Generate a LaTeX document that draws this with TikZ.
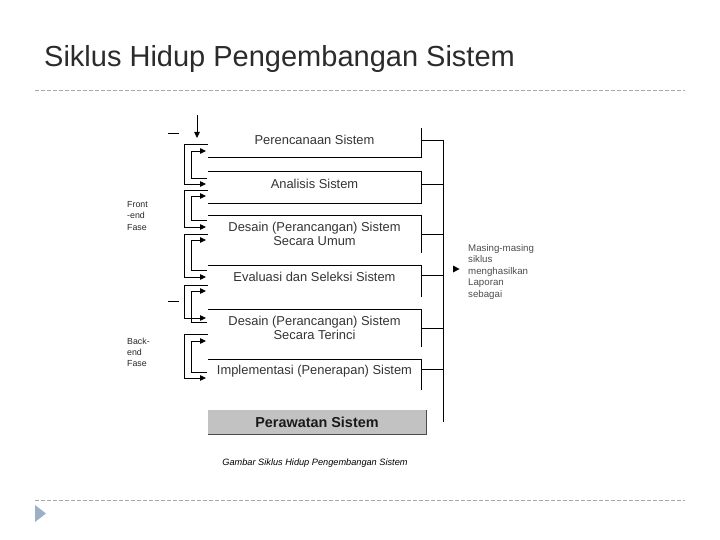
\documentclass[tikz,border=0pt]{standalone}
\usepackage{fontspec}
\setmainfont{Liberation Sans}
\usetikzlibrary{arrows.meta}
\definecolor{titlegray}{HTML}{2B2B2B}
\definecolor{txtgray}{HTML}{333333}
\definecolor{dashgray}{HTML}{A8A8A8}
\definecolor{bullet}{HTML}{9DB0C8}
\definecolor{boxfill}{HTML}{C2C2C2}
\begin{document}
\begin{tikzpicture}[x=1pt,y=-1pt,
  ln/.style={line width=0.8pt, black},
  arr/.style={ln, -{Triangle[length=6pt,width=5.5pt]}},
  stage/.style={minimum width=213pt, inner sep=0pt, outer sep=0pt},
  lbl/.style={inner sep=0pt, align=center, font=\fontsize{12.9}{14.5}\selectfont, text=txtgray},
  side/.style={font=\fontsize{8.8}{11.4}\selectfont, align=left, anchor=north west, inner sep=0pt, text=black!85},
  sep/.style={dashgray, line width=0.8pt, dash pattern=on 4pt off 2pt}
]
\useasboundingbox (0,0) rectangle (720,540);

% title and separators
\node[anchor=base west, inner sep=0pt, font=\fontsize{29}{32}\selectfont, text=titlegray] (title) at (44,67) {Siklus Hidup Pengembangan Sistem};
\coordinate (s1a) at (35,90); \coordinate (s1b) at (685,90);
\coordinate (s2a) at (35,500); \coordinate (s2b) at (685,500);
\draw[sep] (s1a) -- (s1b);
\draw[sep] (s2a) -- (s2b);
\fill[bullet] (35,505) -- (46,513.5) -- (35,522) -- cycle;

% stage boxes
\node[stage, minimum height=29pt] (b1) at (314.5,142.5) {};
\node[stage, minimum height=32pt] (b2) at (314.5,187) {};
\node[stage, minimum height=38pt] (b3) at (314.5,234) {};
\node[stage, minimum height=32pt] (b4) at (314.5,281) {};
\node[stage, minimum height=38pt] (b5) at (314.5,328) {};
\node[stage, minimum height=31pt] (b6) at (314.5,374.5) {};

% stage labels
\node[lbl] (t1) at (314.5,140) {Perencanaan Sistem};
\node[lbl] (t2) at (314.5,184) {Analisis Sistem};
\node[lbl] (t3) at (314.5,234) {Desain (Perancangan) Sistem\\Secara Umum};
\node[lbl] (t4) at (314.5,277) {Evaluasi dan Seleksi Sistem};
\node[lbl] (t5) at (314.5,328) {Desain (Perancangan) Sistem\\Secara Terinci};
\node[lbl] (t6) at (314.5,371) {Implementasi (Penerapan) Sistem};

\draw[ln] (b1.south west) -- (b1.south east) -- (b1.north east);
\draw[ln] (b2.south west) -- (b2.south east) -- (b2.north east) -- (b2.north west);
\draw[ln] (b3.south east) -- (b3.north east) -- (b3.north west);
\draw[ln] (b4.south east) -- (b4.north east) -- (b4.north west);
\draw[ln] (b5.south east) -- (b5.north east) -- (b5.north west);
\draw[ln] (b6.south east) -- (b6.north east) -- (b6.north west);

% maintenance
\node[minimum width=218pt, minimum height=24pt, inner sep=0pt, fill=boxfill,
  font=\fontsize{14.4}{16}\bfseries\selectfont, text=black!90] (pw) at (317,422) {Perawatan Sistem};
\draw[line width=1pt, black!70] (pw.south west) -- (pw.south east) -- (pw.north east);

% right bus
\coordinate (bustop) at (443,140);
\coordinate (busbot) at (443,422);
\draw[ln] (bustop) -- (busbot);
\draw[ln] (t1 -| b1.east) -- (t1 -| bustop);
\draw[ln] (t2 -| b2.east) -- (t2 -| bustop);
\draw[ln] (b3.east) -- (b3.east -| bustop);
\draw[ln] ([yshift=2pt]t4 -| b4.east) -- ([yshift=2pt]t4 -| bustop);
\draw[ln] (b5.east) -- (b5.east -| bustop);
\draw[ln] ([yshift=2pt]t6 -| b6.east) -- ([yshift=2pt]t6 -| bustop);

% annotation
\fill[black] (453,265.5) -- (459.5,269) -- (453,272.5) -- cycle;
\node[anchor=north west, inner sep=0pt, align=left, font=\fontsize{9.7}{11.5}\selectfont, text=black!70] (ann) at (468,244) {Masing-masing\\siklus\\menghasilkan\\Laporan\\sebagai};

% left labels
\node[side] (front) at (127,201) {Front\\-end\\Fase};
\node[side] (back) at (127,337.5) {Back-\\end\\Fase};
\coordinate (d1a) at (168,133); \coordinate (d1b) at (179,133);
\coordinate (d2a) at (168,301); \coordinate (d2b) at (179,301);
\draw[ln] (d1a) -- (d1b);
\draw[ln] (d2a) -- (d2b);

% entry arrow
\coordinate (in0) at (197,115);
\draw[arr] (in0) -- (197,138);

% forward (outer) and feedback (inner) brackets
\foreach \T/\A/\F/\I in {144/184/151/178, 190/227/196/220, 234/277/240/270, 285/318/291/322, 334/378/341/372}{
  \draw[arr] (208,\T) -- (184,\T) -- (184,\A) -- (206,\A);
  \draw[arr] (207,\I) -- (191,\I) -- (191,\F) -- (206,\F);
}

% caption
\node[inner sep=0pt, font=\fontsize{9.2}{11}\itshape\selectfont, text=black] (cap) at (315,463) {Gambar Siklus Hidup Pengembangan Sistem};
\end{tikzpicture}
\end{document}
